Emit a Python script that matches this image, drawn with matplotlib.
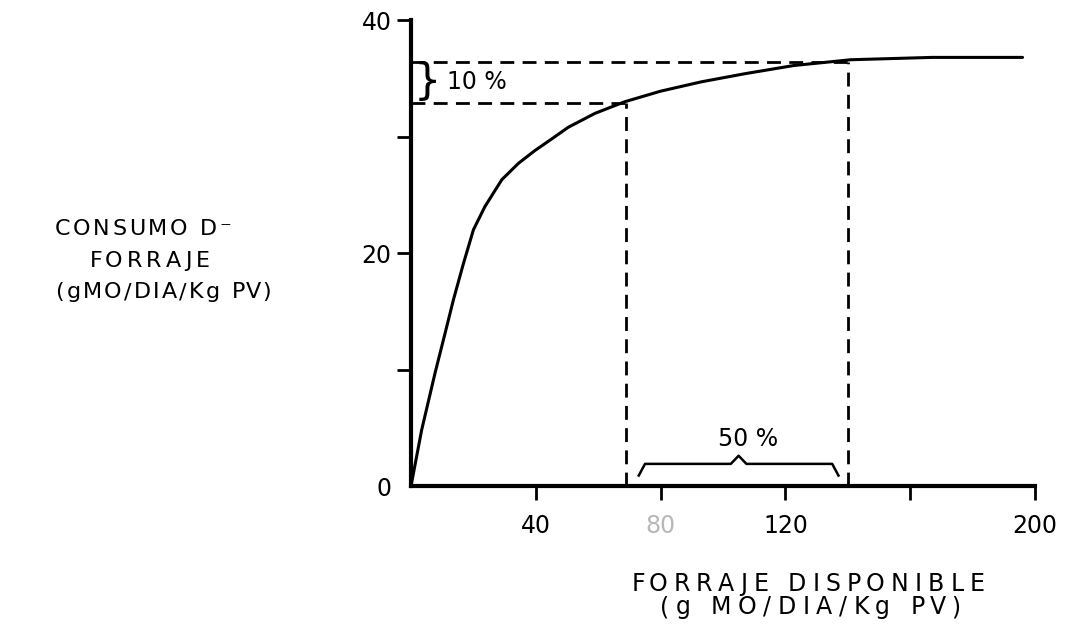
import numpy as np
import matplotlib
matplotlib.use("Agg")
import matplotlib.pyplot as plt
from matplotlib.font_manager import FontProperties

# curve
forraje = [0, 3.4, 7.7, 10.9, 13.6, 16.8, 20.0, 23.7, 29.1, 34.4, 39.7, 45.1,
           50.4, 59, 68.6, 80, 93, 107, 122.6, 141, 167, 196]
consumo = [0, 4.8, 9.7, 13.1, 16.0, 19.1, 22.0, 24.0, 26.3, 27.7, 28.8, 29.8,
           30.8, 32.0, 33.0, 33.9, 34.7, 35.4, 36.1, 36.6, 36.8, 36.8]

# reference levels / limits
max_consumo = 36.4
consumo_90 = 32.9
forraje_90 = 69
forraje_max = 140

xticks = [40, 80, 120, 160, 200]
xtick_labels = ["40", "80", "120", "", "200"]
yticks = [0, 10, 20, 30, 40]
ytick_labels = ["0", "", "20", "", "40"]

W, H = 1074, 633
plt.rcParams['font.family'] = ['DejaVu Sans']

fig = plt.figure(figsize=(W / 100, H / 100), dpi=100)
ax = fig.add_axes([0.3827, 0.2322, 0.581, 0.736])


def spaced(s, cx, base, width, size):
    # letter-spaced text like the stencil lettering of the original
    r = fig.canvas.get_renderer()
    prop = FontProperties(family='DejaVu Sans', size=size)
    wa = r.get_text_width_height_descent("aa", prop, ismath=False)[0]
    ws = [r.get_text_width_height_descent("a" + c + "a", prop, ismath=False)[0] - wa
          for c in s]
    gap = (width - sum(ws)) / (len(s) - 1)
    x = cx - width / 2
    for c, w in zip(s, ws):
        fig.text(x / W, 1 - base / H, c, fontproperties=prop, ha='left', va='baseline')
        x += w + gap


ax.plot(forraje, consumo, color='black', lw=2.2, solid_capstyle='round')

dash = dict(color='black', lw=2, dashes=(5, 3))
ax.plot([0, forraje_max], [max_consumo, max_consumo], **dash)
ax.plot([0, forraje_90], [consumo_90, consumo_90], **dash)
ax.plot([forraje_90, forraje_90], [0, consumo_90], **dash)
ax.plot([forraje_max, forraje_max], [0, max_consumo], **dash)

# 10 % brace
ax.text(1.0, (max_consumo + consumo_90) / 2, "}", fontsize=31, va='center', ha='left')
ax.text(11.5, (max_consumo + consumo_90) / 2, "10 %", fontsize=17, va='center', ha='left')

# 50 % brace along the bottom
b0, b1 = forraje_90 + 4, forraje_max - 3
bm = (b0 + b1) / 2
bx = [b0, b0 + 2, bm - 2.5, bm, bm + 2.5, b1 - 2, b1]
by = [0.9, 1.9, 1.9, 2.6, 1.9, 1.9, 0.9]
ax.plot(bx, by, color='black', lw=1.8)
ax.text(bm + 3, 3.0, "50 %", fontsize=17, ha='center', va='bottom')

ax.set_xlim(0, 200)
ax.set_ylim(0, 40)
for s in ['top', 'right']:
    ax.spines[s].set_visible(False)
for s in ['left', 'bottom']:
    ax.spines[s].set_linewidth(3)
ax.spines['left'].set_bounds(0, 40)
ax.spines['bottom'].set_bounds(0, 200)

ax.set_xticks(xticks)
ax.set_xticklabels(xtick_labels, fontsize=17)
ax.set_yticks(yticks)
ax.set_yticklabels(ytick_labels, fontsize=17)
ax.get_xticklabels()[1].set_color('#b8b8b8')
ax.tick_params(axis='both', direction='out', length=10, width=2, color='black')
ax.tick_params(axis='x', pad=10)
ax.tick_params(axis='y', pad=4)
ax.yaxis.get_major_ticks()[0].tick1line.set_visible(False)

spaced("CONSUMO D\u207b", 143, 235, 177, 16)
spaced("FORRAJE", 150, 267, 120, 16)
spaced("(gMO/DIA/Kg PV)", 163, 298, 215, 16)

spaced("FORRAJE DISPONIBLE", 808, 591, 353, 17)
spaced("(g MO/DIA/Kg PV)", 810, 614, 300, 17)

fig.savefig("out.png", dpi=100)
